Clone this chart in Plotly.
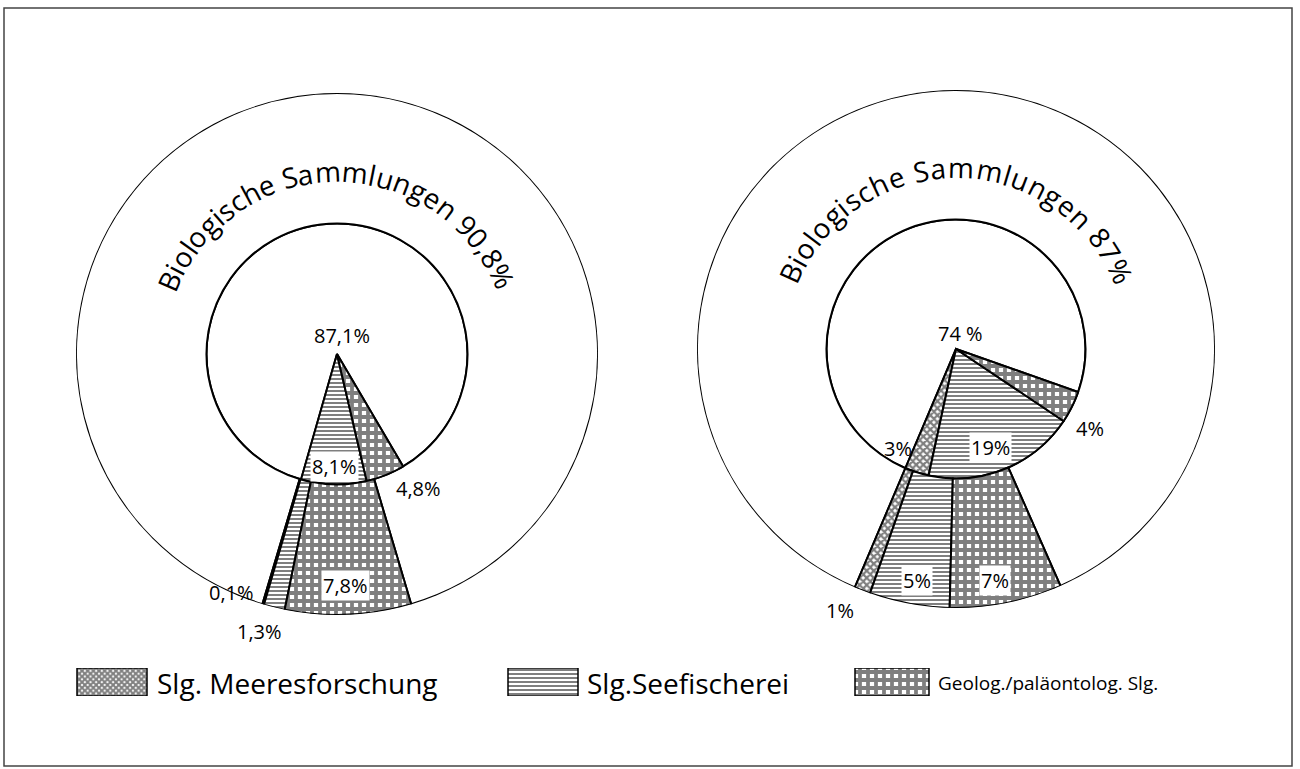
import math
import plotly.graph_objects as go

W, H = 1300, 769

# ---------------- data ----------------
categories = ["Biologische Sammlungen", "Slg. Meeresforschung",
              "Slg. Seefischerei", "Geolog./paläontolog. Slg."]
legend_labels = ["Slg. Meeresforschung", "Slg.Seefischerei", "Geolog./paläontolog. Slg."]

left_inner = [87.1, 0.0, 8.1, 4.8]
left_outer = [90.8, 0.1, 1.3, 7.8]
right_inner = [74, 3, 19, 4]
right_outer = [87, 1, 5, 7]

left_title = "Biologische Sammlungen 90,8%"
right_title = "Biologische Sammlungen 87%"
left_inner_labels = ["87,1%", "", "8,1%", "4,8%"]
left_outer_labels = ["", "0,1%", "1,3%", "7,8%"]
right_inner_labels = ["74 %", "3%", "19%", "4%"]
right_outer_labels = ["", "1%", "5%", "7%"]

# ---------------- style / layout ----------------
FONT = "Open Sans"
INNER = 0.5  # inner circle radius as a fraction of the outer radius

patterns = [None,
            dict(shape="x", size=5, solidity=0.7, fgcolor="black", bgcolor="white"),
            dict(shape="-", size=4, solidity=0.5, fgcolor="black", bgcolor="white"),
            dict(shape="+", size=8, solidity=0.72, fgcolor="black", bgcolor="white")]

charts = [
    dict(name="polar", cx=337, cy=354, R=261, inner=left_inner, outer=left_outer,
         start_inner=254.0, start_outer=253.4, title=left_title,
         inner_labels=left_inner_labels, outer_labels=left_outer_labels,
         inner_pos=[(342, 335), None, (334, 466), (418, 488)],
         outer_pos=[None, (232, 592), (259, 631), (346, 585)],
         boxed_inner=[False, False, True, False], boxed_outer=[False, False, False, True],
         text_start=159.5, text_r=183, text_sp=1.07),
    dict(name="polar2", cx=956, cy=349, R=259, inner=right_inner, outer=right_outer,
         start_inner=247.0, start_outer=247.0, title=right_title,
         inner_labels=right_inner_labels, outer_labels=right_outer_labels,
         inner_pos=[(960, 333), (898, 448), (990, 447), (1090, 429)],
         outer_pos=[None, (840, 610), (917, 580), (995, 580)],
         boxed_inner=[False, False, True, False], boxed_outer=[False, False, True, True],
         text_start=158.5, text_r=182, text_sp=1.12),
]


def sectors(values, start):
    """Return (theta_centre, width) per category; patterned ones run ccw from start,
    the biological sector fills the rest."""
    out = [None] * len(values)
    a = start
    for i in range(1, len(values)):
        w = values[i] * 3.6
        out[i] = (a + w / 2, w)
        a += w
    wb = values[0] * 3.6
    out[0] = (a + wb / 2, wb)
    return out


fig = go.Figure()

for ch in charts:
    sin_ = sectors(ch["inner"], ch["start_inner"])
    sout = sectors(ch["outer"], ch["start_outer"])
    for i, cat in enumerate(categories):
        th, wd, base, rr = [], [], [], []
        if ch["inner"][i] > 0:
            th.append(sin_[i][0]); wd.append(sin_[i][1]); base.append(0); rr.append(INNER)
        if ch["outer"][i] > 0:
            th.append(sout[i][0]); wd.append(sout[i][1]); base.append(INNER); rr.append(1 - INNER)
        marker = dict(color="white", line=dict(color="black", width=2))
        if patterns[i] is not None:
            marker["pattern"] = patterns[i]
            marker["line"] = dict(color="black", width=2)
        fig.add_trace(go.Barpolar(theta=th, width=wd, base=base, r=rr, name=cat,
                                  marker=marker, subplot=ch["name"], showlegend=False,
                                  hoverinfo="skip"))

    pd_x = [(ch["cx"] - ch["R"]) / W, (ch["cx"] + ch["R"]) / W]
    pd_y = [1 - (ch["cy"] + ch["R"]) / H, 1 - (ch["cy"] - ch["R"]) / H]
    fig.update_layout(**{ch["name"]: dict(
        domain=dict(x=pd_x, y=pd_y), bgcolor="rgba(0,0,0,0)", barmode="overlay",
        radialaxis=dict(visible=False, range=[0, 1]),
        angularaxis=dict(visible=False, direction="counterclockwise", rotation=0))})

# ---------------- labels ----------------
annotations = []


def label(txt, pos, boxed, size=20):
    if not txt or pos is None:
        return
    annotations.append(dict(x=pos[0] / W, y=1 - pos[1] / H, xref="paper", yref="paper",
                            text=txt, showarrow=False, xanchor="center", yanchor="middle",
                            font=dict(family=FONT, size=size, color="black"),
                            bgcolor="white" if boxed else "rgba(0,0,0,0)", borderpad=1))


for ch in charts:
    for t, p, b in zip(ch["inner_labels"], ch["inner_pos"], ch["boxed_inner"]):
        label(t, p, b)
    for t, p, b in zip(ch["outer_labels"], ch["outer_pos"], ch["boxed_outer"]):
        label(t, p, b)

# curved title along the ring
CW = {" ": 0.26, "B": 0.63, "i": 0.25, "o": 0.6, "l": 0.25, "g": 0.55, "s": 0.48,
      "c": 0.48, "h": 0.61, "e": 0.56, "S": 0.55, "a": 0.56, "m": 0.93, "u": 0.61,
      "n": 0.61, ",": 0.25, "%": 0.82}
TSIZE = 28
for ch in charts:
    s = 0.0
    for c in ch["title"]:
        w = CW.get(c, 0.57) * TSIZE * ch["text_sp"]
        mid = s + w / 2
        theta = ch["text_start"] - math.degrees(mid / ch["text_r"])
        t = math.radians(theta)
        x = ch["cx"] + ch["text_r"] * math.cos(t)
        y = ch["cy"] - ch["text_r"] * math.sin(t)
        if c != " ":
            annotations.append(dict(x=x / W, y=1 - y / H, xref="paper", yref="paper",
                                    text=c, showarrow=False, textangle=90 - theta,
                                    xanchor="center", yanchor="middle",
                                    font=dict(family=FONT, size=TSIZE, color="black")))
        s += w

# ---------------- legend (swatches drawn as patterned bars) ----------------
sw_centres = [112, 543, 892]
sw_widths = [70, 70, 74]
fig.add_trace(go.Bar(x=sw_centres, y=[1, 1, 1], width=sw_widths, base=0,
                     xaxis="x", yaxis="y", showlegend=False, hoverinfo="skip",
                     marker=dict(color="white", line=dict(color="black", width=1.5),
                                 pattern=dict(shape=[p["shape"] for p in patterns[1:]],
                                              size=[4, 4, 8], solidity=[0.75, 0.5, 0.72],
                                              fgcolor="black", bgcolor="white"))))
fig.update_layout(
    xaxis=dict(domain=[0, 1], range=[0, W], visible=False, fixedrange=True),
    yaxis=dict(domain=[1 - 696 / H, 1 - 668 / H], range=[0, 1], visible=False, fixedrange=True),
)
leg_text_x = [155, 585, 936]
leg_sizes = [28, 28, 19]
for lab, lx, fs in zip(legend_labels, leg_text_x, leg_sizes):
    annotations.append(dict(x=lx / W, y=1 - 683 / H, xref="paper", yref="paper", text=lab,
                            showarrow=False, xanchor="left", yanchor="middle",
                            font=dict(family=FONT, size=fs, color="black")))

fig.update_layout(
    width=W, height=H, margin=dict(l=0, r=0, t=0, b=0),
    paper_bgcolor="white", plot_bgcolor="white",
    annotations=annotations,
    shapes=[dict(type="rect", xref="paper", yref="paper",
                 x0=4 / W, x1=1292 / W, y0=1 - 766 / H, y1=1 - 8 / H,
                 line=dict(color="#444", width=1.5))],
)

fig.write_html("out.html", config={"displayModeBar": False},
               post_script="document.body.style.margin='0px';document.body.style.overflow='hidden';")
